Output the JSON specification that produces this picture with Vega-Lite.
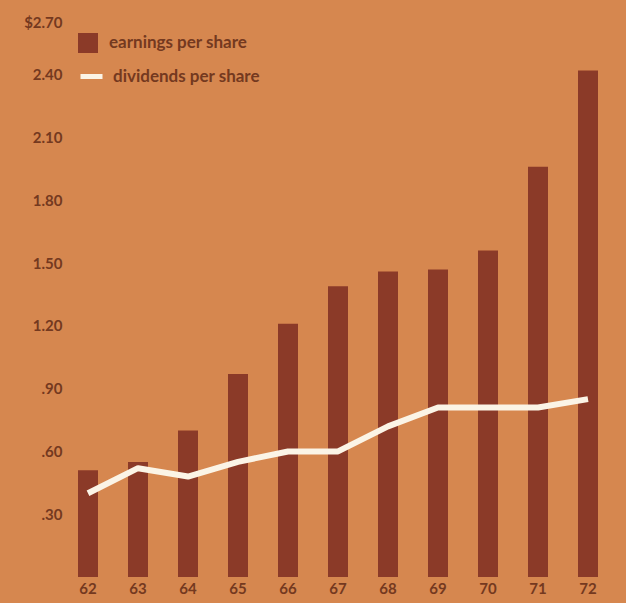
{
  "$schema": "https://vega.github.io/schema/vega-lite/v6.json",
  "width": 550,
  "height": 565,
  "autosize": {"type": "none"},
  "padding": {"left": 63, "top": 12, "right": 13, "bottom": 26},
  "background": "#d6874f",
  "config": {
    "view": {"stroke": null},
    "font": "Lato",
    "axis": {"labelFont": "Lato", "labelFontSize": 15, "labelFontWeight": "bold", "labelColor": "#74391f", "grid": false, "domain": false, "ticks": false, "title": null},
    "legend": {"labelFont": "Lato", "labelFontSize": 17, "labelFontWeight": "bold", "labelColor": "#74391f", "padding": 0, "orient": "none", "title": null, "labelLimit": 300}
  },
  "data": {
    "values": [
      {"year": "62", "earnings": 0.51, "dividends": 0.40, "e": "earnings per share", "d": "dividends per share"},
      {"year": "63", "earnings": 0.55, "dividends": 0.52, "e": "earnings per share", "d": "dividends per share"},
      {"year": "64", "earnings": 0.70, "dividends": 0.48, "e": "earnings per share", "d": "dividends per share"},
      {"year": "65", "earnings": 0.97, "dividends": 0.55, "e": "earnings per share", "d": "dividends per share"},
      {"year": "66", "earnings": 1.21, "dividends": 0.60, "e": "earnings per share", "d": "dividends per share"},
      {"year": "67", "earnings": 1.39, "dividends": 0.60, "e": "earnings per share", "d": "dividends per share"},
      {"year": "68", "earnings": 1.46, "dividends": 0.72, "e": "earnings per share", "d": "dividends per share"},
      {"year": "69", "earnings": 1.47, "dividends": 0.81, "e": "earnings per share", "d": "dividends per share"},
      {"year": "70", "earnings": 1.56, "dividends": 0.81, "e": "earnings per share", "d": "dividends per share"},
      {"year": "71", "earnings": 1.96, "dividends": 0.81, "e": "earnings per share", "d": "dividends per share"},
      {"year": "72", "earnings": 2.42, "dividends": 0.85, "e": "earnings per share", "d": "dividends per share"}
    ]
  },
  "encoding": {
    "x": {
      "field": "year", "type": "ordinal",
      "scale": {"paddingInner": 0.6, "paddingOuter": 0.3},
      "axis": {"labelAngle": 0, "labelPadding": 4, "labelBaseline": "top"}
    }
  },
  "layer": [
    {
      "mark": {"type": "bar"},
      "encoding": {
        "y": {
          "field": "earnings", "type": "quantitative",
          "scale": {"domain": [0, 2.7], "nice": false},
          "axis": {
            "values": [0.3, 0.6, 0.9, 1.2, 1.5, 1.8, 2.1, 2.4, 2.7],
            "labelPadding": 1,
            "labelExpr": "datum.value > 2.6 ? '$2.70' : (datum.value < 1 ? replace(format(datum.value, '.2f'), '0.', '.') : format(datum.value, '.2f'))",
            "labelOffset": {"condition": {"test": "datum.value > 2.6", "value": 10}, "value": 0}
          }
        },
        "fill": {
          "field": "e", "type": "nominal",
          "scale": {"domain": ["earnings per share"], "range": ["#8b3a28"]},
          "legend": {"legendX": 15, "legendY": 21, "symbolType": "square", "symbolSize": 400, "symbolStrokeWidth": 0, "labelOffset": 11}
        }
      }
    },
    {
      "mark": {"type": "line", "strokeWidth": 6, "strokeJoin": "round"},
      "encoding": {
        "y": {"field": "dividends", "type": "quantitative"},
        "stroke": {
          "field": "d", "type": "nominal",
          "scale": {"domain": ["dividends per share"], "range": ["#fbf4e6"]},
          "legend": {"legendX": 15, "legendY": 51, "symbolType": "stroke", "symbolSize": 484, "symbolStrokeWidth": 5, "labelOffset": 8}
        }
      }
    }
  ],
  "resolve": {"scale": {"y": "shared"}}
}
